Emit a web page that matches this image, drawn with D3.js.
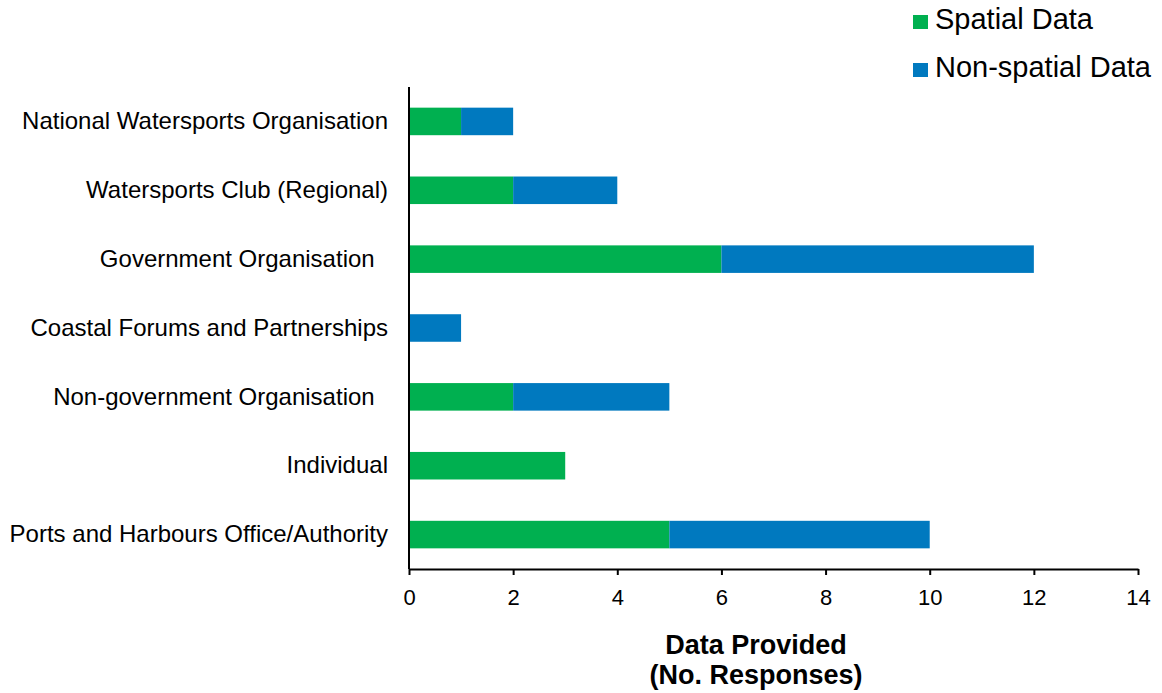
<!DOCTYPE html>
<html>
<head>
<meta charset="utf-8">
<script src="https://cdn.jsdelivr.net/npm/d3@7"></script>
<style>
  html, body { margin: 0; padding: 0; background: #fff; }
  svg text { font-family: "Liberation Sans", Arial, sans-serif; fill: #000; white-space: pre; }
</style>
</head>
<body>
<svg id="chart" width="1162" height="693"></svg>
<script>
// Respondent categories, top to bottom
const categories = [
  "National Watersports Organisation",
  "Watersports Club (Regional)",
  "Government Organisation  ",
  "Coastal Forums and Partnerships",
  "Non-government Organisation  ",
  "Individual",
  "Ports and Harbours Office/Authority"
];
const spatial    = [1, 2, 6, 0, 2, 3, 5];
const nonSpatial = [1, 2, 6, 1, 3, 0, 5];
const seriesNames = ["Spatial Data", "Non-spatial Data"];
const seriesColors = ["#00B050", "#0079BF"];
const xTicks = [0, 2, 4, 6, 8, 10, 12, 14];

const svg = d3.select("#chart");
const margin = { left: 409, right: 24, top: 87, bottom: 124 };
const W = 1162, H = 693;

const x = d3.scaleLinear().domain([0, 14]).range([margin.left, W - margin.right]);
const y = d3.scaleBand().domain(categories).range([margin.top, H - margin.bottom]).paddingInner(0.6).paddingOuter(0.3);

const rows = categories.map((c, i) => ({ cat: c, spatial: spatial[i], nonSpatial: nonSpatial[i] }));
const stack = d3.stack().keys(["spatial", "nonSpatial"])(rows);

svg.append("g").selectAll("g")
  .data(stack).join("g")
  .attr("fill", (d, i) => seriesColors[i])
  .selectAll("rect")
  .data(d => d).join("rect")
  .attr("x", d => x(d[0]))
  .attr("width", d => x(d[1]) - x(d[0]))
  .attr("y", d => y(d.data.cat))
  .attr("height", y.bandwidth());

// x axis
const xAxis = svg.append("g")
  .attr("transform", `translate(0,${H - margin.bottom})`)
  .call(d3.axisBottom(x).tickValues(xTicks).tickSize(6).tickSizeOuter(0).tickPadding(14));
xAxis.select(".domain").attr("stroke", "#000").attr("stroke-width", 2);
xAxis.selectAll(".tick line").attr("stroke", "#000").attr("stroke-width", 2);
xAxis.selectAll(".tick text").attr("font-size", 22).attr("font-family", null);

// y axis
const yAxis = svg.append("g")
  .attr("transform", `translate(${margin.left},0)`)
  .call(d3.axisLeft(y).tickSize(0).tickPadding(21));
yAxis.select(".domain").attr("d", `M0,${margin.top}V${H - margin.bottom}`).attr("stroke", "#000").attr("stroke-width", 2);
yAxis.selectAll(".tick text").attr("font-size", 24).attr("font-family", null);

// axis title
const title = svg.append("text")
  .attr("x", 756).attr("y", 654)
  .attr("text-anchor", "middle")
  .attr("font-size", 27).attr("font-weight", "bold");
title.append("tspan").attr("x", 756).attr("dy", 0).text("Data Provided");
title.append("tspan").attr("x", 756).attr("dy", 30).text("(No. Responses)");

// legend
const legend = svg.append("g").selectAll("g")
  .data(seriesNames).join("g")
  .attr("transform", (d, i) => `translate(913,${15 + i * 48})`);
legend.append("rect").attr("width", 15).attr("height", 14).attr("fill", (d, i) => seriesColors[i]);
legend.append("text").attr("x", 22).attr("y", 14).attr("font-size", 29).text(d => d);
</script>
</body>
</html>
